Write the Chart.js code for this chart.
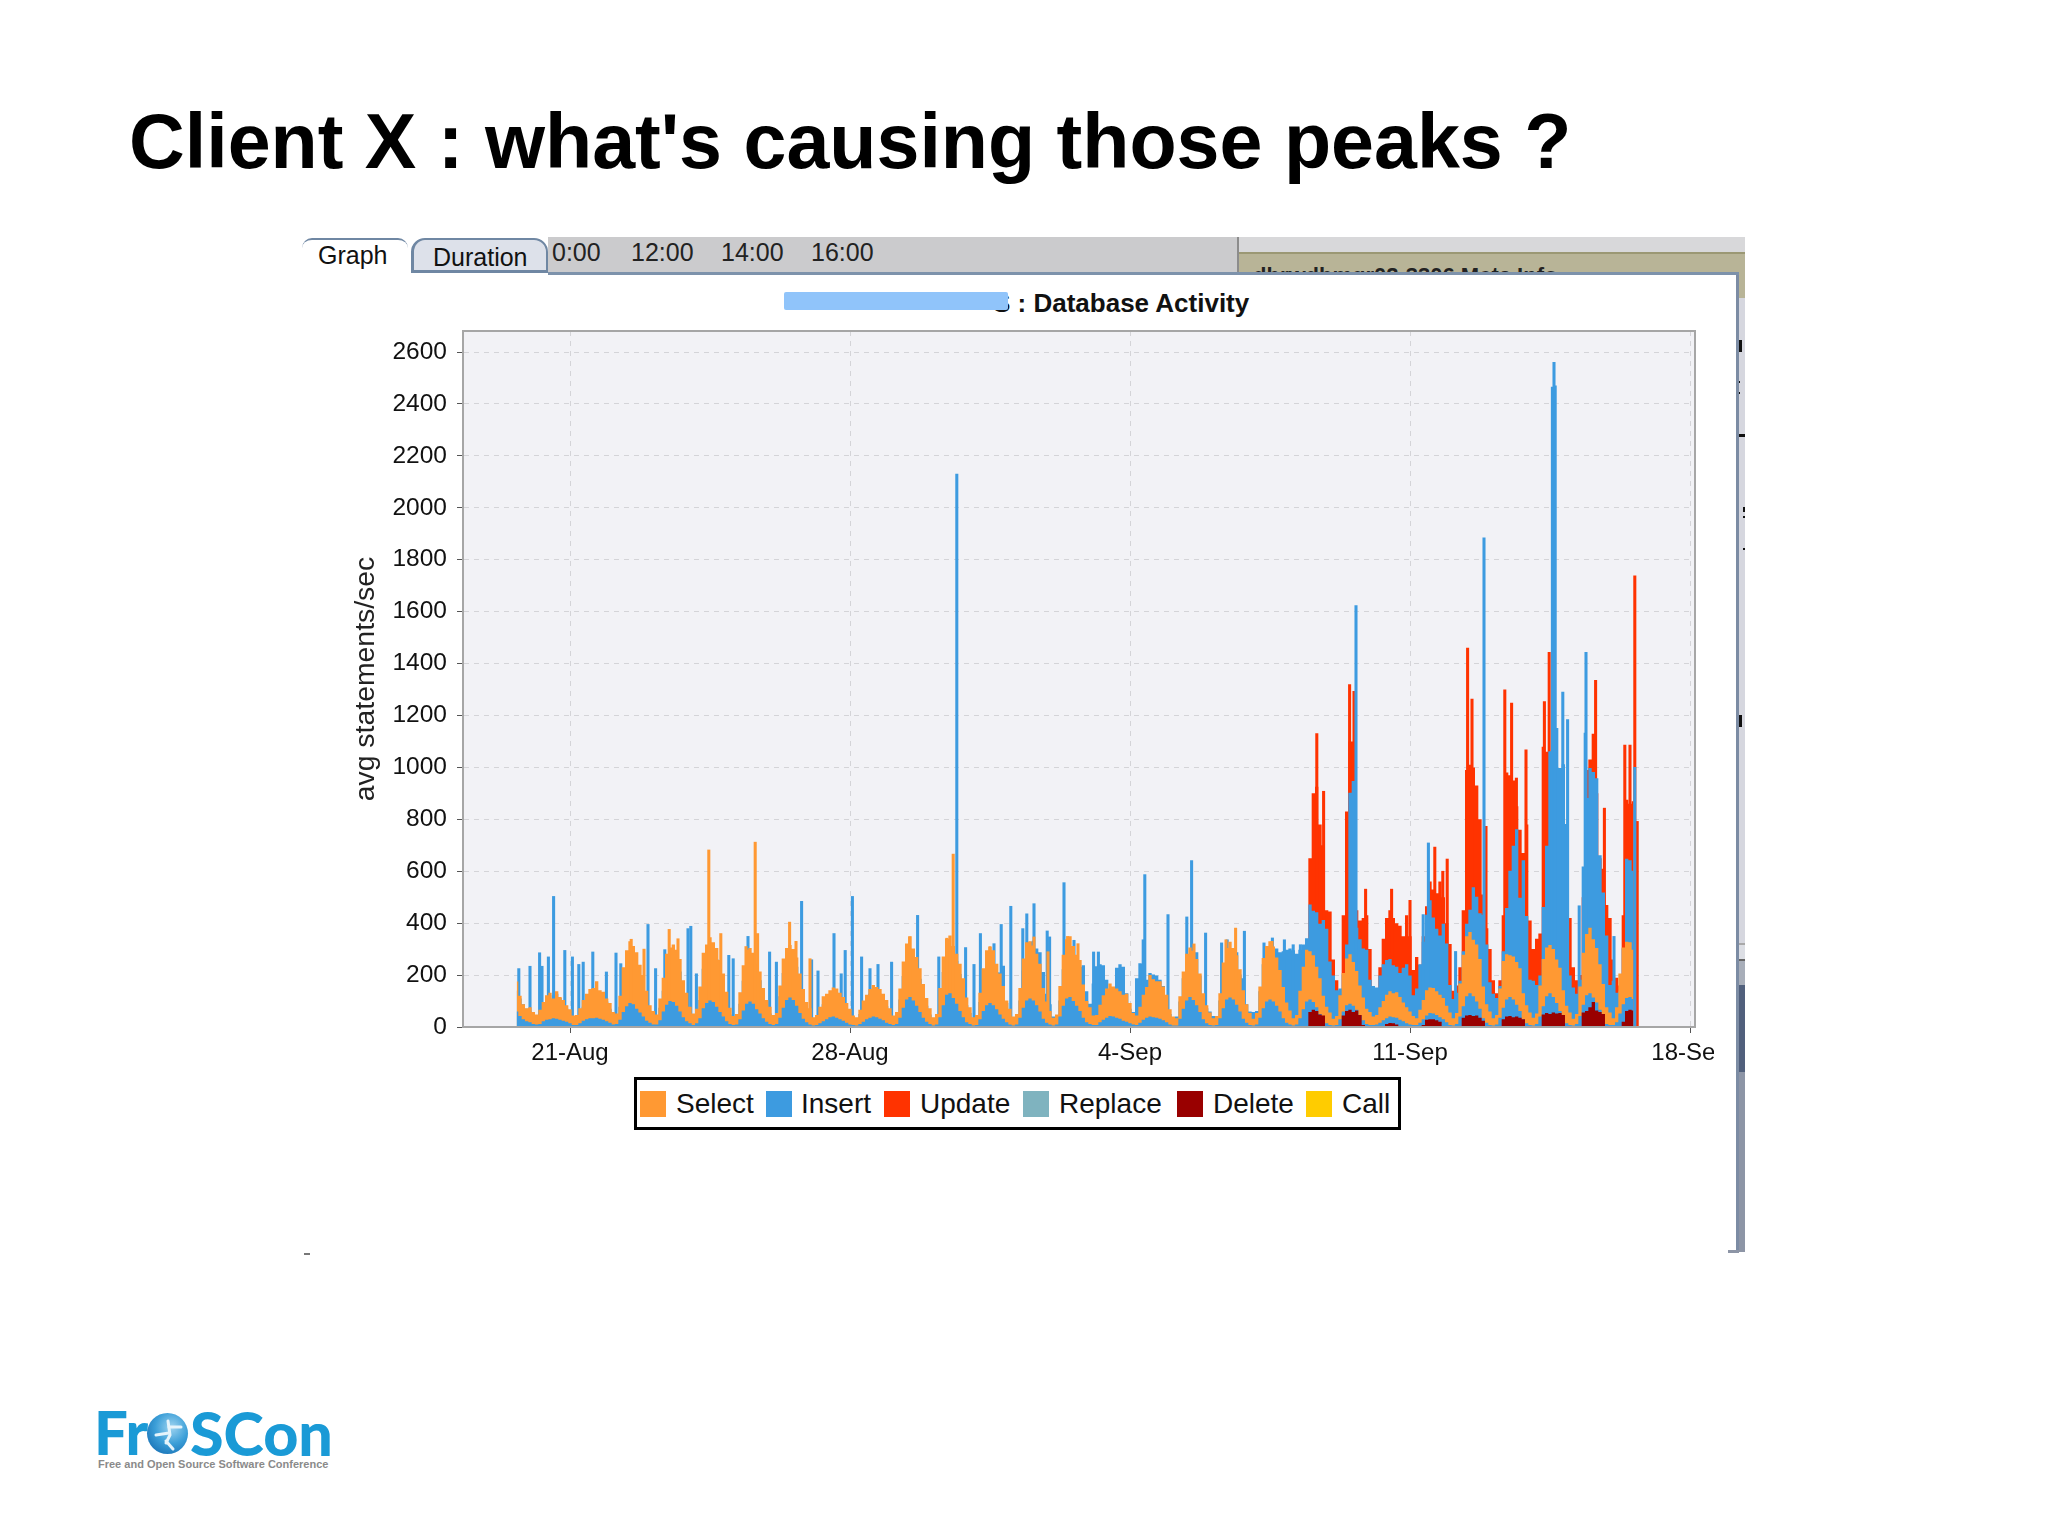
<!DOCTYPE html>
<html>
<head>
<meta charset="utf-8">
<title>Client X</title>
<script src="https://cdn.jsdelivr.net/npm/chart.js@4"></script>
<style>
  html, body { margin: 0; padding: 0; background: #fff; }
  #page { position: relative; width: 2048px; height: 1535px; overflow: hidden; background: #fff; font-family: "Liberation Sans", Arial, sans-serif; }
  #page div, #page span { position: absolute; }
  .txt { line-height: 1; white-space: nowrap; color: #111; }
  .mark { background: #111; }
  #chartBox { position: absolute; left: 304px; top: 280px; width: 1433px; height: 797px; }
</style>
</head>
<body>
<div id="page">
  <div class="txt" style="left:129px;top:103px;font-size:77.2px;font-weight:bold;color:#000">Client X : what's causing those peaks ?</div>

  <!-- window behind the chart -->
  <div style="left:548px;top:237px;width:689px;height:36px;background:#cbcbcd"></div>
  <div style="left:1237px;top:237px;width:2px;height:36px;background:#8c8c8c"></div>
  <div style="left:1239px;top:237px;width:506px;height:15px;background:#d8d8da"></div>
  <div style="left:1239px;top:252px;width:506px;height:46px;background:#b8b497;border-top:2px solid #9b9874;box-sizing:border-box;overflow:hidden">
    <div class="txt" style="left:14px;top:11px;font-size:22px;font-weight:bold;color:#222">dbrwdbmgr02:3306 Meta Info</div>
  </div>
  <div style="left:1738px;top:298px;width:7px;height:645px;background:#d6d7df"></div>
  <div style="left:1738px;top:943px;width:7px;height:2px;background:#a9a9a9"></div>
  <div style="left:1738px;top:945px;width:7px;height:14px;background:#dcdee4"></div>
  <div style="left:1738px;top:959px;width:7px;height:2px;background:#666"></div>
  <div style="left:1738px;top:961px;width:7px;height:24px;background:#a8aeb9"></div>
  <div style="left:1738px;top:985px;width:7px;height:87px;background:#51607c"></div>
  <div style="left:1738px;top:1072px;width:7px;height:180px;background:#8d95a6"></div>
  <div class="mark" style="left:1738px;top:340px;width:4px;height:12px"></div>
  <div class="mark" style="left:1738px;top:381px;width:2px;height:2px"></div>
  <div class="mark" style="left:1738px;top:392px;width:2px;height:2px"></div>
  <div class="mark" style="left:1738px;top:434px;width:7px;height:3px"></div>
  <div class="mark" style="left:1743px;top:507px;width:2px;height:5px"></div>
  <div class="mark" style="left:1743px;top:516px;width:2px;height:2px"></div>
  <div class="mark" style="left:1743px;top:548px;width:2px;height:2px"></div>
  <div class="mark" style="left:1738px;top:715px;width:4px;height:12px"></div>
  <div style="left:304px;top:273px;width:1432px;height:979px;background:#fff;border-right:3px solid #7c8ca4;box-sizing:content-box"></div>
  <div style="left:548px;top:272px;width:1191px;height:3px;background:#7d92ab"></div>
  <div style="left:304px;top:1253px;width:6px;height:2px;background:#777"></div>
  <div style="left:1728px;top:1250px;width:11px;height:3px;background:#8d95a6"></div>

  <!-- tabs -->
  <div style="left:411px;top:238px;width:137px;height:35px;background:#dde1ea;border:solid #6f87a3;border-width:2px 2px 3px 3px;border-radius:14px 14px 0 0;box-sizing:border-box"></div>
  <div style="left:302px;top:238px;width:106px;height:35px;background:#fff;border-top:2px solid #6f87a3;border-radius:10px 10px 0 0;box-sizing:border-box"></div>
  <div class="txt" style="left:318px;top:243px;font-size:25px">Graph</div>
  <div class="txt" style="left:433px;top:245px;font-size:25px">Duration</div>
  <div class="txt" style="left:552px;top:240px;font-size:25px;color:#222">0:00</div>
  <div class="txt" style="left:631px;top:240px;font-size:25px;color:#222">12:00</div>
  <div class="txt" style="left:721px;top:240px;font-size:25px;color:#222">14:00</div>
  <div class="txt" style="left:811px;top:240px;font-size:25px;color:#222">16:00</div>

  <!-- chart heading, first part is masked in the original -->
  <div class="txt" style="left:993px;top:290px;font-size:26px;font-weight:bold">S : Database Activity</div>
  <div style="left:784px;top:292px;width:224px;height:18px;background:#90c4fa;border-radius:2px"></div>

  <div id="chartBox"><canvas id="activity"></canvas></div>
  <div style="left:1714px;top:1035px;width:22px;height:40px;background:#fff"></div>

  <div id="legendBox" style="left:634px;top:1077px;width:767px;height:53px;border:3px solid #000;box-sizing:border-box;background:#fff"></div>

  <!-- logo -->
  <div class="txt" style="left:94px;top:1402px;font-size:60px;font-weight:900;color:#1a9ad6;font-family:Lato,'Open Sans',sans-serif">Fr</div>
  <div style="left:147px;top:1413px;width:41px;height:41px;border-radius:50%;background:radial-gradient(circle at 60% 35%,#9fd4f0 0%,#3c9fd8 45%,#0a5fa8 100%)"></div>
  <svg style="position:absolute;left:147px;top:1413px" width="41" height="41"><g stroke="#e6f4fb" stroke-width="3" fill="none" stroke-linecap="round"><path d="M21 8 L23 22 L19 30"/><path d="M22 14 L34 14"/><path d="M22 20 L9 22"/><path d="M19 28 L26 36"/></g></svg>
  <div class="txt" style="left:190px;top:1402px;font-size:61px;font-weight:900;color:#1a9ad6;font-family:Lato,'Open Sans',sans-serif">SCon</div>
  <div class="txt" style="left:98px;top:1459px;font-size:11px;font-weight:bold;color:#8a8a8a">Free and Open Source Software Conference</div>
</div>

<script>
// legend entries
const seriesNames  = ['Select', 'Insert', 'Update', 'Replace', 'Delete', 'Call'];
const seriesColors = ['#ff9933', '#3d9be0', '#ff3300', '#7fb3bf', '#990000', '#ffcc00'];

// axis ticks
const yTickValues = [0, 200, 400, 600, 800, 1000, 1200, 1400, 1600, 1800, 2000, 2200, 2400, 2600];
const xTickDays   = [0, 7, 14, 21, 28];           // days after 21-Aug
const xTickLabels = ['21-Aug', '28-Aug', '4-Sep', '11-Sep', '18-Sep'];

// two-hour samples from 19-Aug 16:00
const selectStart = -1.3333;
const selectRate = [
  175,120,88,72,
  76,58,48,66,96,122,132,110,138,116,104,84,
  68,44,46,72,104,128,146,150,176,142,136,110,
  92,58,52,120,230,296,330,312,288,240,200,140,
  84,62,48,110,190,282,306,318,298,262,180,132,
  78,52,70,156,286,318,346,326,304,258,206,136,
  74,42,50,134,238,298,304,286,244,214,150,104,
  78,46,54,160,264,304,316,300,268,206,146,96,
  72,38,46,78,118,128,142,152,148,132,116,92,
  70,44,38,66,102,124,146,162,154,146,128,104,
  72,44,58,148,252,322,350,302,270,226,166,112,
  72,38,50,150,272,340,352,312,282,244,188,114,
  76,38,46,132,226,296,308,296,244,206,158,102,
  70,40,50,150,264,326,330,314,282,244,150,98,
  62,36,48,158,278,338,350,312,278,258,164,100,
  76,44,46,86,122,148,168,156,148,138,124,128,
  92,54,44,78,124,154,200,184,176,176,156,124,
  68,40,34,118,214,282,306,294,262,206,130,84,
  56,34,42,130,248,304,328,304,276,222,142,88,
  54,32,54,156,266,312,330,310,268,220,154,94,
  64,34,46,140,232,298,292,276,232,188,120,78,
  56,32,42,122,208,264,280,250,216,160,114,70,
  58,40,46,76,100,124,138,130,134,116,94,76,
  60,42,34,66,104,142,152,150,138,124,112,82,
  56,34,54,168,278,350,366,336,318,262,156,88,
  60,34,46,148,254,280,276,272,250,226,130,84,
  56,36,52,160,262,306,316,300,260,228,142,82,
  56,32,50,156,286,358,382,338,304,242,166,76,
  56,34,76,206,306,328,326,298
];

const insertStart = -1.3333;
const insertRate = [
  140,110,88,70,
  60,44,40,52,68,92,98,122,128,112,88,70,
  50,40,34,52,78,102,118,132,138,122,108,98,
  70,44,46,78,152,198,242,238,232,198,162,104,
  56,46,42,74,140,210,252,248,262,214,136,96,
  52,44,58,104,224,264,286,270,262,212,170,102,
  48,36,42,90,178,242,254,240,202,180,116,74,
  52,38,44,118,208,258,270,256,232,162,108,68,
  48,34,40,58,88,106,122,136,132,116,94,68,
  50,38,34,50,76,104,128,148,140,128,106,80,
  52,40,46,106,196,266,296,262,238,186,128,82,
  48,34,42,106,212,286,298,276,254,204,150,84,
  54,34,38,96,182,258,272,262,212,210,236,92,
  40,30,40,102,218,298,328,332,302,288,212,128,
  88,40,34,102,222,298,312,278,242,232,238,138,
  90,168,234,242,238,182,128,122,228,242,232,130,
  70,58,188,246,244,182,208,202,198,182,158,100,
  50,38,40,98,188,222,268,298,288,198,118,72,
  60,42,38,102,188,258,292,296,288,202,188,88,
  60,58,62,138,242,298,312,308,302,288,292,298,
  302,296,282,298,318,342,472,448,442,398,412,378,
  252,198,142,148,202,318,902,948,382,338,302,298,
  182,158,152,198,242,258,262,238,232,208,228,242,
  198,122,148,242,328,432,488,422,378,352,398,322,
  162,108,132,178,292,398,452,538,502,438,432,318,
  172,128,112,158,292,458,602,698,762,498,642,428,
  182,178,162,198,462,698,1062,1148,1152,998,1012,782,
  198,152,128,182,618,882,998,982,958,662,518,352,
  162,178,132,138,302,648,642,602
];

// blue band along the bottom of the plot
const insertLowStart = -1.3333;
const insertLow = [
  60,42,30,22,
  18,12,10,12,22,28,30,34,32,28,24,20,
  14,8,8,14,24,30,34,34,36,32,28,22,
  16,10,12,28,58,80,92,88,70,56,40,24,
  16,10,10,26,60,86,100,96,82,60,38,22,
  14,8,14,34,72,92,102,96,78,58,40,22,
  12,8,10,30,64,90,98,90,68,52,34,20,
  12,8,12,36,74,104,114,104,82,54,32,18,
  10,6,8,14,22,30,38,40,36,30,24,16,
  10,8,6,12,20,30,36,40,38,32,26,16,
  12,8,12,36,74,106,116,102,82,58,36,20,
  12,6,10,38,84,124,130,112,90,62,38,18,
  12,6,8,30,62,84,92,84,68,48,32,18,
  10,6,10,36,74,102,110,102,84,60,32,16,
  10,6,10,40,82,110,116,100,82,62,36,18,
  12,8,8,18,28,36,42,40,36,32,24,20,
  14,10,8,16,28,36,40,38,36,32,26,18,
  10,6,6,32,70,102,116,104,84,58,30,14,
  8,6,8,34,72,106,114,106,86,60,32,16,
  8,6,10,36,72,98,106,98,82,60,34,16,
  10,6,10,34,68,98,106,96,76,50,28,14,
  8,6,8,30,60,84,90,82,66,44,26,12,
  8,8,10,16,26,34,40,38,36,28,22,14,
  10,8,8,16,30,44,54,52,46,38,30,18,
  8,6,12,40,80,118,130,118,98,70,34,16,
  8,6,10,36,74,106,116,106,86,62,30,14,
  8,6,12,40,80,118,130,116,92,62,32,14,
  8,6,12,42,86,122,130,114,94,66,36,12,
  8,8,18,52,88,112,116,108
];

// update traffic only starts on 8-Sep
const updateStart = 18;
const updateRate = [
  30,34,38,32,40,46,650,900,925,780,700,450,
  445,260,180,100,430,830,1100,1100,450,410,420,430,
  300,120,150,230,340,420,450,420,400,390,350,430,
  350,220,270,240,350,465,560,530,515,560,500,400,
  320,140,160,230,450,990,1010,1000,930,800,510,380,
  300,180,130,180,430,980,970,950,850,760,670,780,
  410,300,340,360,1080,1060,1040,1000,900,800,700,500,
  420,230,180,200,500,990,1030,1130,900,650,610,470,
  420,260,190,160,430,875,860,870
];

const deleteStart = 18;
const deleteRate = [
  0,0,0,0,0,2,58,66,62,48,44,0,
  0,0,0,2,44,62,66,58,64,46,8,0,
  0,0,0,0,4,12,15,14,10,4,0,0,
  0,0,0,0,8,28,30,30,26,20,2,0,
  0,0,0,2,36,44,46,42,44,36,24,2,
  0,0,0,0,30,40,42,38,40,36,30,4,
  0,0,0,0,48,54,50,56,52,54,46,2,
  0,0,0,0,56,62,76,96,64,58,50,2,
  0,0,0,0,20,62,66,64
];

// single-sample spikes
const insertSpikeDays = [-1.28,-1.0,-.76,-.7,-.54,-.41,-.13,.06,.22,.33,.57,.91,1.15,1.27,1.95,2.14,2.37,2.95,3.02,3.16,3.97,4.08,4.45,4.99,5.16,5.79,6.04,6.2,6.6,6.78,6.88,7.06,7.29,7.5,7.7,8.04,8.69,9.22,9.67,9.89,10.1,10.26,10.6,10.78,11.02,11.32,11.42,11.6,11.93,11.99,12.35,12.6,13.09,13.21,14.33,14.37,14.95,15.42,15.54,15.89,16.29,16.43,16.86,17.35,17.56,17.86,18.08,18.26,19.65,21.33,21.46,22.14,22.85,24.56,24.6,24.63,24.82,24.94,25.23,25.38,25.4,26.1,26.62];
const insertSpikes    = [225,234,286,234,270,503,295,270,241,250,289,212,285,244,395,225,298,379,388,205,276,263,349,289,250,484,259,216,360,205,295,503,270,225,241,250,430,270,2130,306,241,360,321,395,465,379,436,475,370,347,556,334,289,289,336,587,433,424,641,362,324,336,369,324,343,336,317,317,1623,433,709,291,1884,2465,2560,2470,1290,1184,467,1132,1443,349,1000];

const selectSpikeDays = [1.53,1.85,2.48,2.7,3.47,3.77,4.4,4.63,4.69,5.49,5.65,6.0,8.49,9.42,9.58,10.5,11.6,11.95,12.44,12.7,15.6,16.4,16.64,17.55];
const selectSpikes    = [338,300,376,340,682,360,310,712,360,404,330,263,347,342,666,310,347,290,349,321,320,336,381,330];

const updateSpikeDays = [18.67,18.84,19.49,19.6,19.89,20.54,21.0,21.62,21.82,21.93,22.44,22.55,22.9,23.37,23.54,23.66,23.9,24.36,24.48,25.64,25.86,26.37,26.5,26.62,26.68];
const updateSpikes    = [1130,908,1319,1293,531,531,488,693,600,647,1460,1263,773,1299,1248,959,1068,1254,1443,1335,843,1086,1086,1738,792];

const STEP_DAYS = 1 / 12;

function areaSeries(label, start, values, color, order) {
  return {
    type: 'line', label, order,
    data: values.map((v, i) => ({ x: start + i * STEP_DAYS, y: v })),
    stepped: 'middle',
    borderWidth: 0,
    pointRadius: 0,
    backgroundColor: color,
    fill: 'origin',
  };
}

function spikeSeries(label, days, values, color, order) {
  return {
    type: 'bar', label, order,
    data: days.map((d, i) => ({ x: d, y: values[i] })),
    backgroundColor: color,
    barThickness: 2.4,
    grouped: false,
  };
}

// plot background and frame
const plotFrame = {
  id: 'plotFrame',
  beforeDraw(chart) {
    const a = chart.chartArea;
    chart.ctx.fillStyle = '#f2f2f6';
    chart.ctx.fillRect(a.left, a.top, a.right - a.left, a.bottom - a.top);
  },
  afterDraw(chart) {
    const a = chart.chartArea, ctx = chart.ctx;
    ctx.strokeStyle = '#a6a6a6';
    ctx.lineWidth = 2;
    ctx.strokeRect(a.left, a.top, a.right - a.left, a.bottom - a.top);
  },
};

new Chart(document.getElementById('activity'), {
  data: {
    datasets: [
      areaSeries('Delete', deleteStart, deleteRate, seriesColors[4], 1),
      areaSeries('Insert low', insertLowStart, insertLow, seriesColors[1], 2),
      spikeSeries('Select peaks', selectSpikeDays, selectSpikes, seriesColors[0], 3),
      areaSeries('Select', selectStart, selectRate, seriesColors[0], 4),
      spikeSeries('Insert peaks', insertSpikeDays, insertSpikes, seriesColors[1], 5),
      areaSeries('Insert', insertStart, insertRate, seriesColors[1], 6),
      spikeSeries('Update peaks', updateSpikeDays, updateSpikes, seriesColors[2], 7),
      areaSeries('Update', updateStart, updateRate, seriesColors[2], 8),
    ],
  },
  plugins: [plotFrame],
  options: {
    responsive: true, maintainAspectRatio: false, animation: false,
    layout: { padding: { top: 51, right: 42, left: 0, bottom: 0 } },
    plugins: { legend: { display: false }, title: { display: false }, tooltip: { enabled: false } },
    scales: {
      x: {
        type: 'linear', min: -2.675, max: 28.125, offset: false,
        grid: { color: '#d4d4d8', tickColor: '#555', tickLength: 6, offset: false },
        border: { dash: [5, 5], color: '#a6a6a6' },
        afterBuildTicks: s => { s.ticks = xTickDays.map(v => ({ value: v })); },
        afterFit: s => { s.height = 50; },
        ticks: {
          autoSkip: false, maxRotation: 0, minRotation: 0, padding: 6,
          color: '#111', font: { family: '"Liberation Sans"', size: 24 },
          callback: v => xTickLabels[xTickDays.indexOf(v)],
        },
      },
      y: {
        type: 'linear', min: 0, max: 2681,
        grid: { color: '#d4d4d8', tickColor: '#555', tickLength: 6 },
        border: { dash: [5, 5], color: '#a6a6a6' },
        afterBuildTicks: s => { s.ticks = yTickValues.map(v => ({ value: v })); },
        afterFit: s => { s.width = 159; },
        title: {
          display: true, text: 'avg statements/sec', color: '#222',
          font: { family: '"Liberation Sans"', size: 28.4 }, padding: { top: 45, bottom: 0 },
        },
        ticks: { padding: 10, color: '#111', font: { family: '"Liberation Sans"', size: 24.5 }, callback: v => String(v) },
      },
    },
  },
});

// legend row
const swatchLeft = [640, 766, 884, 1023, 1177, 1306];
const textLeft   = [676, 801, 920, 1059, 1213, 1342];
const page = document.getElementById('page');
seriesNames.forEach((name, i) => {
  const sw = document.createElement('div');
  sw.style.cssText = `left:${swatchLeft[i]}px;top:1091px;width:26px;height:26px;background:${seriesColors[i]}`;
  page.appendChild(sw);
  const t = document.createElement('div');
  t.className = 'txt';
  t.style.cssText = `left:${textLeft[i]}px;top:1090px;font-size:28px`;
  t.textContent = name;
  page.appendChild(t);
});
</script>
</body>
</html>
